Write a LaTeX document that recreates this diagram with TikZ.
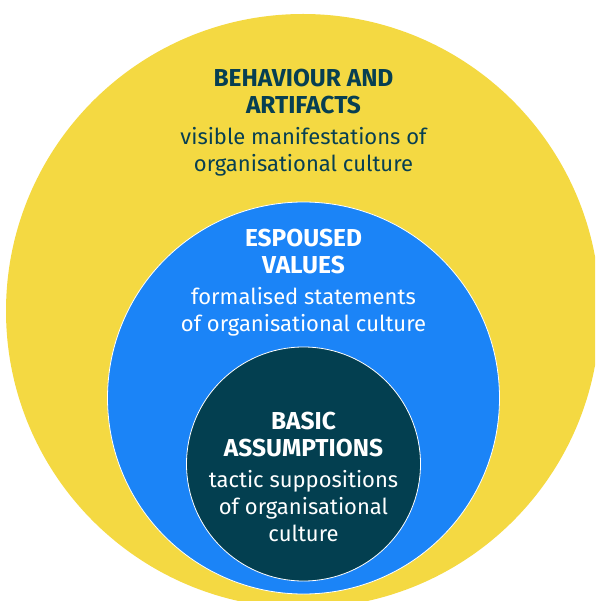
\documentclass[tikz,border=0pt]{standalone}
\usepackage{fontspec}
\setmainfont{Fira Sans}

\definecolor{jaune}{HTML}{F4D942}
\definecolor{bleu}{HTML}{1B84F7}
\definecolor{nuit}{HTML}{033F50}
\definecolor{encre}{HTML}{073F52}

\newcommand{\titre}[1]{{\fontsize{24.5}{27}\selectfont\bfseries #1}}

\begin{document}
\begin{tikzpicture}[x=1pt, y=-1pt,
    cercle/.style={circle, inner sep=0, draw=white, line width=.8pt},
    texte/.style={anchor=north, inner sep=0, align=center, font=\fontsize{22}{27}\selectfont}]

    \useasboundingbox (0,0) rectangle (595,601);
    \clip (0,0) rectangle (595,601);

    % cercles
    \node[cercle, draw=none, fill=jaune, minimum size=594] (behaviour) at (303,311) {};
    \node[cercle, fill=bleu, minimum size=392] (espoused) at (303.5,398) {};
    \node[cercle, fill=nuit, minimum size=234] (basic) at (303.5,464) {};

    % textes
    \node[texte, text=encre] (behaviour-txt) at (303.5,69)
        {\titre{BEHAVIOUR AND}\\\titre{ARTIFACTS}\\[3.5pt]visible manifestations of\\organisational culture};
    \node[texte, text=white] (espoused-txt) at (303.5,229)
        {\titre{ESPOUSED}\\\titre{VALUES}\\[3.5pt]formalised statements\\of organisational culture};
    \node[texte, text=white] (basic-txt) at (303.5,412)
        {\titre{BASIC}\\\titre{ASSUMPTIONS}\\[3.5pt]tactic suppositions\\of organisational\\culture};

\end{tikzpicture}
\end{document}
